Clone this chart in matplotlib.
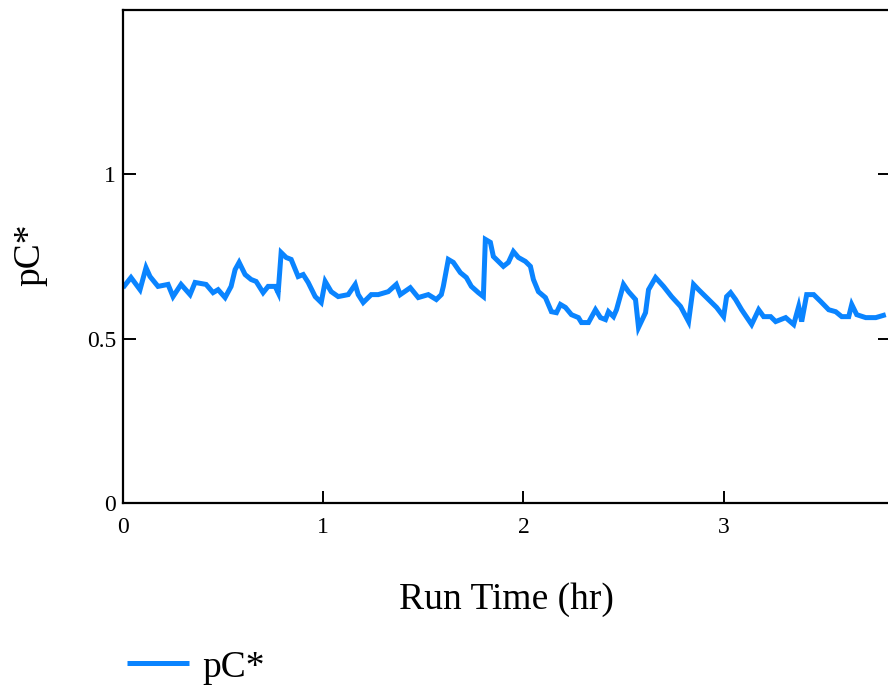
import matplotlib
matplotlib.use('Agg')
from matplotlib import pyplot as plt

plt.rcParams['font.family'] = ['Liberation Serif', 'DejaVu Serif']

# run time (hr) and pC*
run_time = [0.0, 0.04, 0.085, 0.115, 0.135, 0.175, 0.225, 0.25, 0.29, 0.335,
            0.36, 0.415, 0.45, 0.475, 0.51, 0.54, 0.56, 0.58, 0.61, 0.64,
            0.665, 0.70, 0.725, 0.76, 0.775, 0.79, 0.815, 0.84, 0.875, 0.90,
            0.925, 0.96, 0.99, 1.01, 1.04, 1.075, 1.125, 1.16, 1.175, 1.20,
            1.24, 1.275, 1.325, 1.365, 1.385, 1.435, 1.475, 1.525, 1.565, 1.59,
            1.60, 1.625, 1.65, 1.685, 1.715, 1.74, 1.775, 1.80, 1.81, 1.835,
            1.85, 1.90, 1.925, 1.95, 1.975, 2.01, 2.035, 2.05, 2.075, 2.11,
            2.14, 2.165, 2.185, 2.21, 2.24, 2.275, 2.29, 2.325, 2.36, 2.385,
            2.41, 2.425, 2.45, 2.465, 2.50, 2.525, 2.56, 2.575, 2.61, 2.625,
            2.66, 2.70, 2.74, 2.785, 2.825, 2.85, 2.875, 2.925, 2.965, 3.00,
            3.015, 3.035, 3.06, 3.09, 3.14, 3.175, 3.20, 3.235, 3.26, 3.31,
            3.35, 3.375, 3.39, 3.415, 3.45, 3.485, 3.525, 3.56, 3.59, 3.625,
            3.64, 3.665, 3.71, 3.76, 3.81]
pc_star = [0.655, 0.686, 0.649, 0.716, 0.689, 0.659, 0.665, 0.628, 0.665, 0.634,
           0.671, 0.665, 0.640, 0.649, 0.625, 0.659, 0.710, 0.732, 0.695, 0.680,
           0.674, 0.640, 0.659, 0.659, 0.640, 0.762, 0.747, 0.741, 0.689, 0.695,
           0.671, 0.628, 0.610, 0.674, 0.643, 0.628, 0.634, 0.665, 0.634, 0.610,
           0.634, 0.634, 0.643, 0.665, 0.634, 0.655, 0.625, 0.634, 0.619, 0.634,
           0.659, 0.741, 0.732, 0.701, 0.686, 0.659, 0.640, 0.628, 0.802, 0.793,
           0.750, 0.720, 0.732, 0.765, 0.747, 0.735, 0.720, 0.680, 0.643, 0.625,
           0.582, 0.579, 0.604, 0.595, 0.573, 0.564, 0.549, 0.549, 0.588, 0.564,
           0.558, 0.582, 0.567, 0.588, 0.665, 0.643, 0.619, 0.534, 0.579, 0.649,
           0.686, 0.659, 0.628, 0.598, 0.552, 0.665, 0.649, 0.619, 0.595, 0.567,
           0.628, 0.640, 0.619, 0.588, 0.543, 0.588, 0.567, 0.567, 0.552, 0.564,
           0.543, 0.598, 0.552, 0.634, 0.634, 0.613, 0.588, 0.582, 0.567, 0.567,
           0.604, 0.573, 0.564, 0.564, 0.573]

x_ticks = [0, 1, 2, 3]
y_ticks = [0, 0.5, 1]
y_tick_labels = ['0', '0.5', '1']

fig = plt.figure(figsize=(8.88, 6.88), dpi=100)
ax = fig.add_axes([0.1385, 0.2689, 0.8635, 0.7166])

ax.plot(run_time, pc_star, color='#0a84ff', lw=3.6, label='pC*',
        solid_joinstyle='miter', solid_capstyle='butt')

ax.set_xlim(0, 3.83)
ax.set_ylim(0, 1.5)
ax.set_xticks(x_ticks)
ax.set_yticks(y_ticks)
ax.set_yticklabels(y_tick_labels)
ax.tick_params(direction='in', length=9, width=1.4, labelsize=17, pad=5,
               right=True, colors='black')
ax.tick_params(axis='x', pad=10)
for s in ax.spines.values():
    s.set_linewidth(1.6)

ax.set_xlabel('Run Time (hr)', fontsize=27)
ax.xaxis.set_label_coords(0.5, -0.162)
ax.set_ylabel('pC*', fontsize=27)
ax.yaxis.set_label_coords(-0.098, 0.503)

fig.legend(loc='center left', bbox_to_anchor=(0.143, 0.030), frameon=False,
           fontsize=27, handlelength=1.65, handletextpad=0.35,
           borderpad=0, borderaxespad=0)

plt.savefig('out.png', dpi=100)
plt.close()
